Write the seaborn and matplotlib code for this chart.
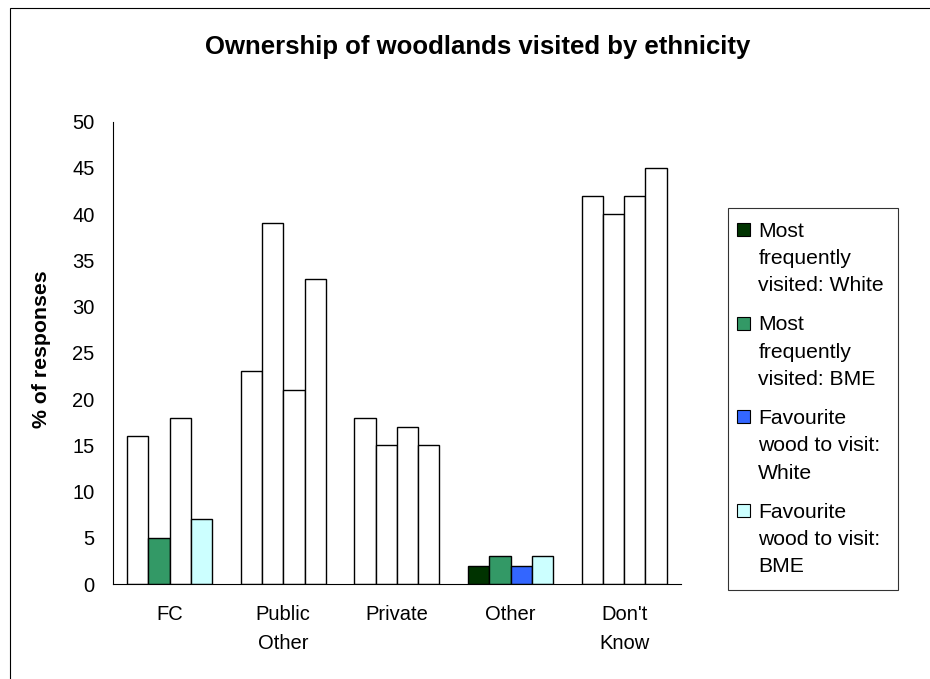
import numpy as np
import pandas as pd
import matplotlib
matplotlib.use("Agg")
import matplotlib.pyplot as plt
from matplotlib.patches import Rectangle
from matplotlib.legend_handler import HandlerBase
import seaborn as sns

# ---- data ----
categories = ["FC", "Public\nOther", "Private", "Other", "Don't\nKnow"]
series = [
    "Most\nfrequently\nvisited: White",
    "Most\nfrequently\nvisited: BME",
    "Favourite\nwood to visit:\nWhite",
    "Favourite\nwood to visit:\nBME",
]
most_white = [16, 23, 18, 2, 42]
most_bme = [5, 39, 15, 3, 40]
fav_white = [18, 21, 17, 2, 42]
fav_bme = [7, 33, 15, 3, 45]

# ---- styling ----
series_colors = ["#003300", "#339966", "#3366FF", "#CCFFFF"]
# bars drawn with their series fill (others are left white)
filled = {
    "FC": [False, True, False, True],
    "Public\nOther": [False, False, False, False],
    "Private": [False, False, False, False],
    "Other": [True, True, True, True],
    "Don't\nKnow": [False, False, False, False],
}

rows = []
for s, vals in zip(series, [most_white, most_bme, fav_white, fav_bme]):
    for c, v in zip(categories, vals):
        rows.append({"category": c, "series": s, "value": v})
df = pd.DataFrame(rows)

sns.set_style("white")
plt.rcParams["font.family"] = ["Liberation Sans", "DejaVu Sans"]

W, H, DPI = 930, 679, 100
fig = plt.figure(figsize=(W / DPI, H / DPI), dpi=DPI)
fig.patch.set_facecolor("white")

left, right = 112.7 / W, 681 / W
bottom, top = 1 - 584 / H, 1 - 121.7 / H
ax = fig.add_axes([left, bottom, right - left, top - bottom])

sns.barplot(
    data=df, x="category", y="value", hue="series",
    order=categories, hue_order=series, palette=series_colors,
    width=0.75, saturation=1, errorbar=None, legend=False,
    edgecolor="black", linewidth=1.0, ax=ax,
)

for si, cont in enumerate(ax.containers):
    for ci, bar in enumerate(cont):
        if not filled[categories[ci]][si]:
            bar.set_facecolor("white")

ax.set_xlim(-0.5, len(categories) - 0.5)
ax.set_ylim(0, 50)
ax.set_yticks(np.arange(0, 51, 5))
ax.set_xticks(np.arange(len(categories)))
ax.set_xticks(np.arange(-0.5, len(categories)), minor=True)
ax.set_xticklabels(categories, fontsize=14.5, linespacing=1.7)
ax.tick_params(axis="x", which="major", length=0, pad=15)
ax.tick_params(axis="x", which="minor", length=5, width=0.8, color="black", direction="out")
ax.tick_params(axis="y", length=6, width=0.8, color="black", direction="out", pad=7, labelsize=14.5)
for t in ax.get_yticklabels() + ax.get_xticklabels():
    t.set_color("black")

for side in ["top", "right"]:
    ax.spines[side].set_visible(False)
for side in ["left", "bottom"]:
    ax.spines[side].set_color("black")
    ax.spines[side].set_linewidth(0.8)

ax.set_xlabel("")
ax.set_ylabel("")
fig.text(42 / W, 1 - 349 / H, "% of responses", rotation=90, ha="center", va="center",
         fontsize=15.3, fontweight="bold", color="black")
fig.text(477.5 / W, 1 - 47 / H, "Ownership of woodlands visited by ethnicity",
         ha="center", va="center", fontsize=18.5, fontweight="bold", color="black")


class TopSquare(HandlerBase):
    """Square swatch aligned with the first line of a multi-line label."""

    def __init__(self, side, lift, shift=0.0, **kw):
        super().__init__(**kw)
        self.side = side
        self.lift = lift
        self.shift = shift

    def create_artists(self, legend, orig_handle, xdescent, ydescent, width, height, fontsize, trans):
        r = Rectangle((-xdescent - self.shift, self.lift), self.side, self.side,
                      facecolor=orig_handle.get_facecolor(), edgecolor="black",
                      linewidth=0.8, transform=trans)
        return [r]


handles = [Rectangle((0, 0), 1, 1, facecolor=c) for c in series_colors]
leg_fs = 15.2
leg_ls = 1.55
pitch_pt = leg_ls * 0.771 * leg_fs
handler = TopSquare(side=9.4, lift=pitch_pt + 3.3, shift=3.6)
leg = fig.legend(
    handles, series, loc="upper left", bbox_to_anchor=(727.7 / W, 1 - 208 / H),
    bbox_transform=fig.transFigure, borderaxespad=0, frameon=True, fancybox=False,
    fontsize=leg_fs, handlelength=0.62, handleheight=0.7, handletextpad=0.17,
    borderpad=0.66, labelspacing=0.95,
    handler_map={h: handler for h in handles},
)
leg.get_frame().set_edgecolor("black")
leg.get_frame().set_linewidth(0.8)
for t in leg.get_texts():
    t.set_linespacing(leg_ls)
    t.set_color("black")

# outer chart frame
fig.patches.append(Rectangle((9.5 / W, -0.1), 1.2, 1.1 - 8.5 / H, transform=fig.transFigure,
                             fill=False, edgecolor="black", linewidth=0.8))

fig.savefig("out.png", dpi=DPI)
